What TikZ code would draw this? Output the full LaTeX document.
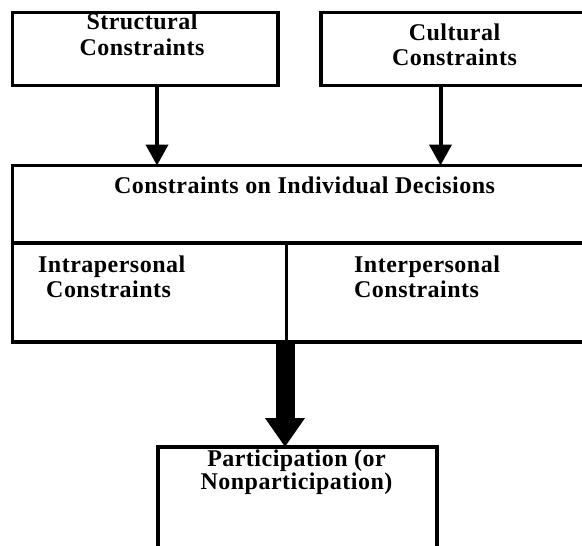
\documentclass[tikz,border=0pt]{standalone}
\usepackage{fontspec}
\newfontfamily\dfont{Liberation Serif Bold}[LetterSpace=2]
\usetikzlibrary{arrows.meta}
\begin{document}
\begin{tikzpicture}[x=1pt,y=-1pt,
  box/.style={draw, line width=3.4pt, inner sep=0pt, outer sep=0pt, anchor=north west, rectangle},
  lbl/.style={inner sep=0pt, font=\dfont\fontsize{24}{25}\selectfont, anchor=base},
  thin arrow/.style={line width=4pt, -{Triangle[width=22pt,length=21pt]}},
  big arrow/.style={line width=19pt, -{Triangle[width=38pt,length=29pt]}}]
\useasboundingbox (0,0) rectangle (582,546);
\clip (0,0) rectangle (582,546);
\fill[white] (0,0) rectangle (582,546);
% boxes
\node[box, minimum width=265.5pt, minimum height=73pt] (struct) at (12.5,12.5) {};
\node[box, minimum width=290pt, minimum height=73pt] (cult) at (321,12.5) {};
\node[box, minimum width=600pt, minimum height=77.5pt] (decide) at (12.5,165.5) {};
\node[box, minimum width=274.2pt, minimum height=99pt] (intra) at (12.5,243) {};
\node[box, minimum width=320pt, minimum height=99pt] (inter) at (286.7,243) {};
\node[box, line width=4pt, minimum width=279pt, minimum height=120pt] (part) at (158,447) {};
% texts (base anchor = baseline of last line)
\node[lbl, align=center] (t1) at (142,55) {Structural\\Constraints};
\node[lbl, align=center] (t2) at (454.5,65) {Cultural\\Constraints};
\node[lbl] (t3) at (304.5,193) {Constraints on Individual Decisions};
\node[lbl, align=left, anchor=base west] (t4) at (38,297) {Intrapersonal\\\hspace*{8pt}Constraints};
\node[lbl, align=left, anchor=base west] (t5) at (354,297) {Interpersonal\\Constraints};
\node[lbl, align=center, font=\dfont\fontsize{24}{23}\selectfont] (t6) at (296.5,489) {Participation (or\\Nonparticipation)};
% connectors
\coordinate (a1) at (157,0);
\coordinate (a2) at (440.5,0);
\coordinate (a3) at (285,0);
\draw[thin arrow] (struct.south -| a1) -- (decide.north -| a1);
\draw[thin arrow] (cult.south -| a2) -- (decide.north -| a2);
\draw[big arrow] (intra.south -| a3) -- (part.north -| a3);
\end{tikzpicture}
\end{document}
